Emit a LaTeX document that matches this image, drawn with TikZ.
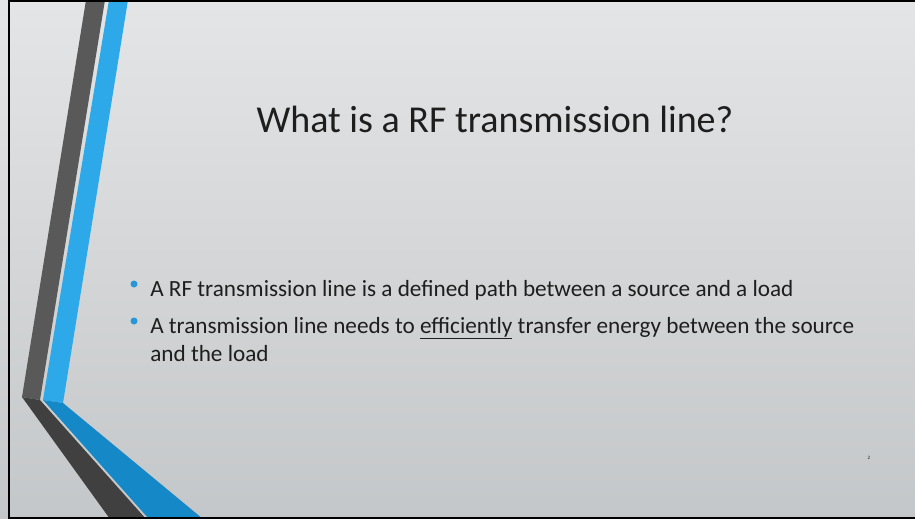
\documentclass[tikz,border=0pt]{standalone}
\usepackage{fontspec}
\setmainfont{Carlito}
\usepackage{tikz}

\definecolor{bgtop}{RGB}{228,229,230}
\definecolor{bgmid}{RGB}{236,236,236}
\definecolor{bgbot}{RGB}{196,199,201}
\definecolor{bandgrey}{RGB}{89,89,89}
\definecolor{banddark}{RGB}{64,64,64}
\definecolor{bandblue}{RGB}{45,169,233}
\definecolor{banddeep}{RGB}{21,136,200}
\definecolor{dotblue}{RGB}{40,150,215}
\definecolor{ink}{RGB}{30,30,30}

\begin{document}
\begin{tikzpicture}[x=1pt,y=-1pt,semithick]
\tikzstyle{heading}=[anchor=base,text=ink,inner sep=0pt,font=\fontsize{38}{42}\selectfont]
\tikzstyle{bullettext}=[anchor=base west,text=ink,inner sep=0pt,font=\fontsize{23.2}{28}\selectfont]
\tikzstyle{dot}=[circle,fill=dotblue,inner sep=0pt,minimum size=7pt]
\useasboundingbox (0,0) rectangle (915,519);

% background
\shade[top color=bgtop,middle color=bgmid,bottom color=bgbot] (0,0) rectangle (915,519);

% the bent bands on the left
\fill[bandgrey] (86,0) -- (105,0) -- (40,400) -- (22,397) -- cycle;
\fill[banddark] (22,397) -- (40,400) -- (146,519) -- (110,519) -- cycle;
\fill[bandblue] (109,0) -- (128,0) -- (63,403) -- (43,400) -- cycle;
\fill[banddeep] (43,400) -- (63,403) -- (203,519) -- (149,519) -- cycle;

% frame
\draw[black,line width=2pt] (915,1) -- (9,1) -- (9,518) -- (915,518);

\node[heading] (title) at (495,132) {What is a RF transmission line?};

\node[dot] (dot1) at (134,284) {};
\node[bullettext] (item1) at (150,296) {A RF transmission line is a defined path between a source and a load};
\node[dot] (dot2) at (134,321) {};
\node[bullettext] (item2) at (150,333) {A transmission line needs to \underline{efficiently} transfer energy between the source};
\node[bullettext] (item2b) at (150,361) {and the load};

\node[text=ink,font=\fontsize{5}{6}\selectfont,inner sep=0pt] (page) at (869,458) {2};
\end{tikzpicture}
\end{document}
